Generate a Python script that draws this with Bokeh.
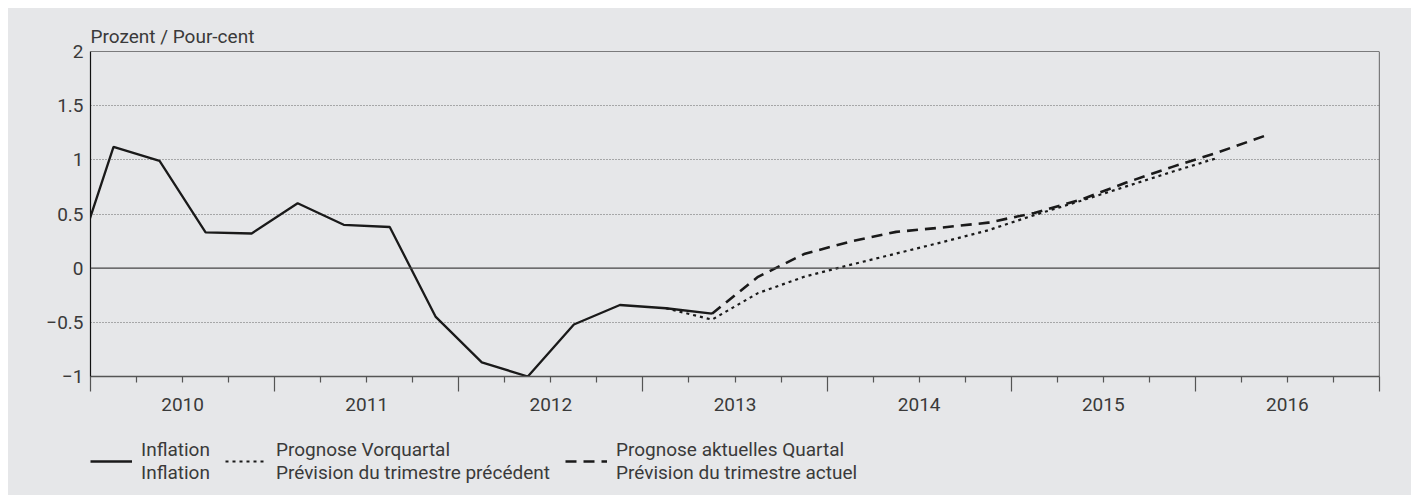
from bokeh.plotting import figure
from bokeh.layouts import column
from bokeh.models import (Range1d, FixedTicker, LinearAxis, Span, Legend, LegendItem,
                          CustomLabelingPolicy)
from bokeh.embed import file_html
from bokeh.resources import INLINE

# ---- data -------------------------------------------------------------
infl_quarters = ["2009Q4", "2010Q1", "2010Q2", "2010Q3", "2010Q4",
                 "2011Q1", "2011Q2", "2011Q3", "2011Q4",
                 "2012Q1", "2012Q2", "2012Q3", "2012Q4",
                 "2013Q1", "2013Q2"]
infl_values = [-0.17, 1.12, 0.99, 0.33, 0.32,
               0.60, 0.40, 0.38, -0.45,
               -0.87, -1.00, -0.52, -0.34,
               -0.37, -0.42]

prev_quarters = ["2013Q1", "2013Q2", "2013Q3", "2013Q4",
                 "2014Q1", "2014Q2", "2014Q3", "2014Q4",
                 "2015Q1", "2015Q2", "2015Q3", "2015Q4", "2016Q1"]
prev_values = [-0.37, -0.475, -0.23, -0.08,
               0.03, 0.135, 0.24, 0.35,
               0.49, 0.62, 0.755, 0.89, 1.02]

curr_quarters = ["2013Q2", "2013Q3", "2013Q4",
                 "2014Q1", "2014Q2", "2014Q3", "2014Q4",
                 "2015Q1", "2015Q2", "2015Q3", "2015Q4",
                 "2016Q1", "2016Q2"]
curr_values = [-0.42, -0.08, 0.13,
               0.245, 0.335, 0.375, 0.42,
               0.51, 0.63, 0.79, 0.935,
               1.07, 1.22]

years = [2010, 2011, 2012, 2013, 2014, 2015, 2016]
y_ticks = [-1, -0.5, 0, 0.5, 1, 1.5, 2]
y_tick_labels = ["\u22121", "\u22120.5", "0", "0.5", "1", "1.5", "2"]

title_text = "Prozent / Pour-cent"
legend_labels = ["Inflation\nInflation",
                 "Prognose Vorquartal\nPrévision du trimestre précédent",
                 "Prognose aktuelles Quartal\nPrévision du trimestre actuel"]


def qpos(s):
    return int(s[:4]) + (int(s[-1]) - 0.5) / 4.0


series = [(infl_quarters, infl_values),
          (prev_quarters, prev_values),
          (curr_quarters, curr_values)]

# ---- styling ----------------------------------------------------------
BG = "#e6e7e9"
TXT = "#3a3a3a"
TICK = "#555555"
LINE = "#1a1a1a"
FONT = "Roboto"
FS = "19px"

STYLES = [dict(line_color=LINE, line_width=2.3),
          dict(line_color=LINE, line_width=2.2, line_dash="3 4"),
          dict(line_color=LINE, line_width=2.6, line_dash="11 7")]

x0, x1 = years[0], years[-1] + 1

HIDE_LABELS = "for (const i of indices) { indices.unset(i) }\nreturn indices"

p = figure(width=1403, height=419,
           x_range=Range1d(x0, x1), y_range=Range1d(-1, 2),
           output_backend="svg", toolbar_location=None,
           min_border_left=82, min_border_right=32,
           min_border_top=43, min_border_bottom=51,
           background_fill_color=BG, border_fill_color=BG,
           outline_line_color=None)

p.title.text = title_text
p.title.align = "left"
p.title.offset = 0
p.title.standoff = 7
p.title.text_font = FONT
p.title.text_font_size = FS
p.title.text_font_style = "normal"
p.title.text_color = TXT

# y axis
yax = p.yaxis[0]
yax.ticker = FixedTicker(ticks=y_ticks)
yax.major_label_overrides = {t: l for t, l in zip(y_ticks, y_tick_labels)}
yax.major_tick_out = 0
yax.major_tick_in = 0
yax.minor_tick_out = 0
yax.minor_tick_in = 0
yax.axis_line_color = "#111111"
yax.axis_line_width = 1.2
yax.major_label_standoff = 7
yax.major_label_text_font = FONT
yax.major_label_text_font_size = FS
yax.major_label_text_color = TXT

# x axis 1: tick marks only (long at year boundaries, short at quarters)
year_bounds = list(range(x0, x1 + 1))
quarter_bounds = [y + q for y in years for q in (0.25, 0.5, 0.75)]
xax = p.xaxis[0]
xax.ticker = FixedTicker(ticks=year_bounds, minor_ticks=quarter_bounds)
xax.major_tick_out = 15
xax.major_tick_in = 0
xax.minor_tick_out = 6
xax.minor_tick_in = 0
xax.major_tick_line_color = TICK
xax.minor_tick_line_color = TICK
xax.major_tick_line_width = 1.2
xax.minor_tick_line_width = 1.2
xax.axis_line_color = TICK
xax.axis_line_width = 1.5
xax.major_label_text_font_size = "1px"
xax.major_label_standoff = 0
xax.major_label_policy = CustomLabelingPolicy(code=HIDE_LABELS)

# x axis 2: year labels centred within each year
mid_years = [y + 0.5 for y in years]
xlab = LinearAxis(ticker=FixedTicker(ticks=mid_years, minor_ticks=[]),
                  major_label_overrides={m: str(y) for m, y in zip(mid_years, years)},
                  axis_line_color=None, major_tick_line_color=None,
                  minor_tick_line_color=None,
                  major_tick_out=0, major_tick_in=0,
                  minor_tick_out=0, minor_tick_in=0,
                  major_label_standoff=2,
                  major_label_text_font=FONT, major_label_text_font_size=FS,
                  major_label_text_color=TXT)
p.add_layout(xlab, "below")

# grid
p.xgrid.visible = False
p.ygrid.ticker = FixedTicker(ticks=[-0.5, 0.5, 1, 1.5])
p.ygrid.grid_line_color = "#666666"
p.ygrid.grid_line_dash = "1 2"
p.ygrid.grid_line_width = 1

p.add_layout(Span(location=0, dimension="width", line_color="#444444", line_width=1.4))
p.add_layout(Span(location=2, dimension="width", line_color="#111111", line_width=1.2))
p.add_layout(Span(location=x1, dimension="height", line_color="#111111", line_width=1.2))

# series
for (qs, vs), st in zip(series, STYLES):
    p.line([qpos(q) for q in qs], vs, **st)

# ---- legend strip below the chart --------------------------------------
# same series, drawn in a strip whose y range lies far above the data,
# so only their legend glyphs are visible
pl = figure(width=1403, height=68,
            x_range=Range1d(x0, x1), y_range=Range1d(10, 11),
            x_axis_type=None, y_axis_type=None,
            output_backend="svg", toolbar_location=None,
            min_border_left=0, min_border_right=0,
            min_border_top=0, min_border_bottom=0,
            background_fill_color=BG, border_fill_color=BG,
            outline_line_color=None)
pl.grid.visible = False
leg_renderers = [pl.line([qpos(q) for q in qs], vs, **st)
                 for (qs, vs), st in zip(series, STYLES)]

legend = Legend(items=[LegendItem(label=lab, renderers=[r])
                       for lab, r in zip(legend_labels, leg_renderers)],
                orientation="horizontal", location=(0, 11),
                margin=0, padding=0, spacing=15, label_standoff=9,
                glyph_width=42, glyph_height=20,
                background_fill_alpha=0, border_line_color=None,
                label_text_font=FONT, label_text_font_size=FS,
                label_text_color=TXT, label_text_line_height=0.9)
pl.add_layout(legend)

layout = column(p, pl, spacing=0, margin=(8, 0, 0, 8),
                styles={"background-color": BG})
open("out.html", "w").write(file_html(layout, INLINE))
